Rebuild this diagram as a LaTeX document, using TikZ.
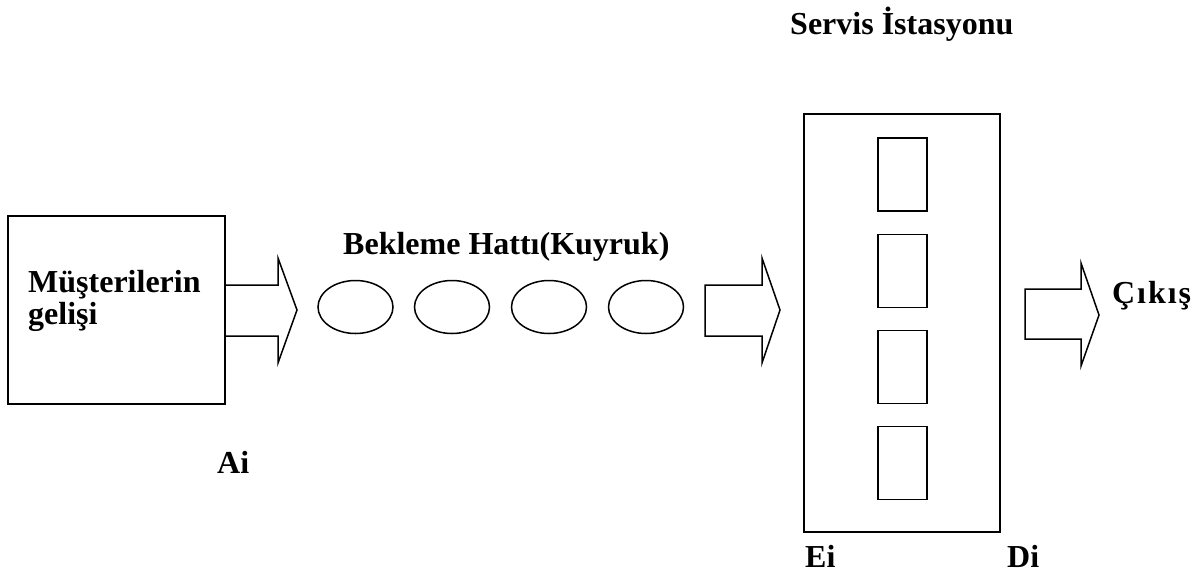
\documentclass[tikz,border=0pt]{standalone}
\usepackage{fontspec}
\setmainfont{Liberation Serif}
\usetikzlibrary{shapes.geometric,calc}
\tikzset{
  lbl/.style={font=\bfseries\fontsize{32}{33}\selectfont, inner sep=0pt, anchor=base west},
  box/.style={draw, line width=1.6pt, inner sep=0pt},
  server/.style={box, minimum width=49pt, minimum height=73pt},
  cust/.style={draw, ellipse, line width=1.5pt, inner sep=0pt, minimum width=75pt, minimum height=53pt},
  blockarr/.style={draw, line width=1.5pt, line join=miter}
}
\begin{document}
\begin{tikzpicture}[x=1pt,y=-1pt]
\useasboundingbox (0,0) rectangle (1204,574);
% arrival box
\node[box, minimum width=217pt, minimum height=188pt] (arrival) at (116.5,310) {};
\node[lbl] (t1) at (28,292) {Müşterilerin};
\node[lbl] (t2) at (28,324) {gelişi};
% arrow 1
\draw[blockarr] ($(arrival.east)+(0,-25)$) -- (278,285) -- (278,258) -- (297,310) -- (278,363) -- (278,336) -- ($(arrival.east)+(0,26)$);
% queue
\node[lbl] (queue) at (343,254) {Bekleme Hattı(Kuyruk)};
\node[cust] (c1) at (355.5,307) {};
\node[cust] (c2) at (452,307) {};
\node[cust] (c3) at (549,307) {};
\node[cust] (c4) at (646,307) {};
% arrow 2
\draw[blockarr] (705,285) -- (762,285) -- (762,258) -- (780,310) -- (762,363) -- (762,336) -- (705,336) -- cycle;
% station
\node[lbl] (stt) at (790,34) {Servis İstasyonu};
\node[box, minimum width=196pt, minimum height=418pt] (station) at (902,323) {};
\node[server] (s1) at (902.5,174.5) {};
\node[server] (s2) at (902.5,271) {};
\node[server] (s3) at (902.5,367) {};
\node[server] (s4) at (902.5,463) {};
% arrow 3
\draw[blockarr] (1025,289) -- (1081,289) -- (1081,263) -- (1099,315) -- (1081,366) -- (1081,339) -- (1025,339) -- cycle;
\node[lbl, font=\bfseries\fontsize{32}{33}\selectfont\addfontfeature{LetterSpace=6}] (exit) at (1112,303) {Çıkış};
% labels
\node[lbl] (ai) at (217,473) {Ai};
\node[lbl] (ei) at (805,567) {Ei};
\node[lbl] (di) at (1007,567) {Di};
\end{tikzpicture}
\end{document}
